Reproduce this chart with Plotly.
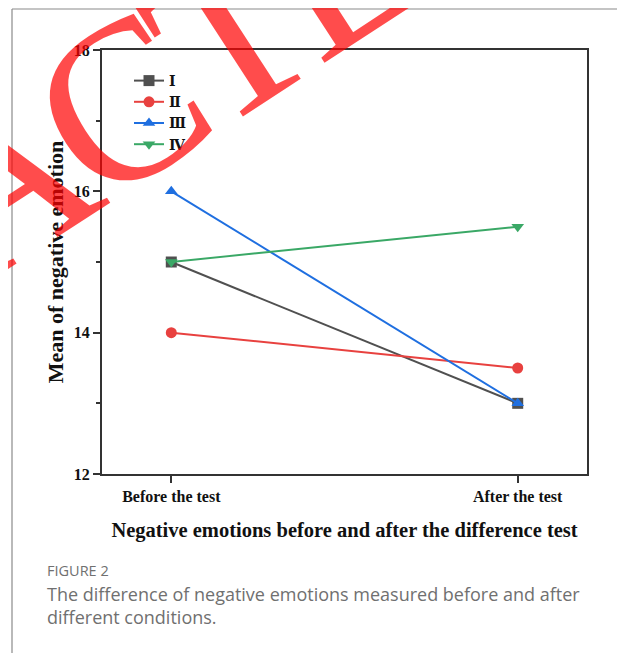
import math
import plotly.graph_objects as go

categories = ["Before the test", "After the test"]
series_names = ["Ⅰ", "Ⅱ", "Ⅲ", "Ⅳ"]
values_I = [15, 13]
values_II = [14, 13.5]
values_III = [16, 13]
values_IV = [15, 15.5]
y_ticks = [12, 14, 16, 18]

colors = ["#505050", "#e8413f", "#1f6fe0", "#3aa866"]
symbols = ["square", "circle", "triangle-up", "triangle-down"]

# page body adds an 8px margin, so the figure is drawn 8px smaller and offset
OFF = 8
W, H = 625 - OFF, 653 - OFF
L, R, T, B = 102 - OFF, 587 - OFF, 50 - OFF, 474 - OFF


def px(x):
    """image pixel x -> paper coordinate"""
    return (x - OFF - L) / (R - L)


def py(y):
    """image pixel y -> paper coordinate"""
    return (B - (y - OFF)) / (B - T)


serif = "Liberation Serif, DejaVu Serif, serif"
fig = go.Figure()
for name, vals, c, s in zip(series_names, [values_I, values_II, values_III, values_IV], colors, symbols):
    fig.add_trace(go.Scatter(
        x=categories, y=vals, name=name, mode="lines+markers",
        line=dict(color=c, width=2),
        marker=dict(color=c, symbol=s, size=11),
    ))

axis_common = dict(showline=True, linecolor="#333", linewidth=2, mirror=True,
                   showgrid=False, zeroline=False, ticks="outside", tickcolor="#333",
                   tickwidth=1.5,
                   tickfont=dict(family=serif, size=16, color="#111", weight="bold"))
fig.update_xaxes(type="category", range=[-0.2, 1.2], ticklen=7,
                 title=dict(text="Negative emotions before and after the difference test",
                            font=dict(family=serif, size=20.5, color="#111", weight="bold"),
                            standoff=18),
                 **axis_common)
fig.update_yaxes(range=[12, 18], tickvals=y_ticks, ticklen=7,
                 minor=dict(dtick=1, ticks="outside", ticklen=4, tickcolor="#333", tickwidth=1.5),
                 title=dict(text="Mean of negative emotion",
                            font=dict(family=serif, size=22, color="#111", weight="bold"),
                            standoff=4),
                 **axis_common)

shapes = [
    dict(type="line", xref="paper", yref="paper", x0=px(12), x1=px(623), y0=py(9), y1=py(9),
         line=dict(color="#8a8a8a", width=1.2)),
    dict(type="line", xref="paper", yref="paper", x0=px(12), x1=px(12), y0=py(9), y1=py(700),
         line=dict(color="#8a8a8a", width=1.2)),
    dict(type="line", xref="paper", yref="paper", x0=px(623), x1=px(623), y0=py(9), y1=py(700),
         line=dict(color="#c8c8c8", width=1.2)),
]

annotations = [
    dict(xref="paper", yref="paper", x=px(45), y=py(570), xanchor="left", yanchor="middle",
         text="FIGURE 2", showarrow=False,
         font=dict(family="Open Sans", size=14.5, color="#707070")),
    dict(xref="paper", yref="paper", x=px(45), y=py(605), xanchor="left", yanchor="middle",
         text="The difference of negative emotions measured before and after<br>different conditions.",
         showarrow=False, align="left",
         font=dict(family="Open Sans", size=18, color="#707070")),
]

# "RETRACTED" stamp laid out letter by letter along a slanted baseline
stamp = "RETRACTED"
adv = {"R": 0.667, "E": 0.611, "T": 0.611, "A": 0.722, "C": 0.667, "D": 0.722}
F = 228
ang = 33.0
k = 0.9
ux, uy = math.cos(math.radians(ang)), -math.sin(math.radians(ang))
centers = []
acc = 0.0
for ch in stamp:
    centers.append(acc + adv[ch] / 2)
    acc += adv[ch]
c_idx = 5
cx0, cy0 = 120, 104
for ch, s in zip(stamp, centers):
    d = (s - centers[c_idx]) * k * F
    xi, yi = cx0 + d * ux, cy0 + d * uy
    annotations.append(dict(
        xref="paper", yref="paper", x=px(xi), y=py(yi), xanchor="center", yanchor="middle",
        text=ch, showarrow=False, textangle=-ang,
        font=dict(family="Liberation Serif", size=F, color="rgba(255,0,0,0.7)")))

fig.update_layout(
    width=W, height=H,
    margin=dict(l=L, r=W - R, t=T, b=H - B),
    paper_bgcolor="white", plot_bgcolor="white",
    shapes=shapes, annotations=annotations,
    legend=dict(x=px(129), y=py(65), xanchor="left", yanchor="top",
                bgcolor="rgba(0,0,0,0)", tracegroupgap=0,
                font=dict(family=serif, size=14, color="#111", weight="bold")),
    showlegend=True,
)

fig.write_html("out.html")
